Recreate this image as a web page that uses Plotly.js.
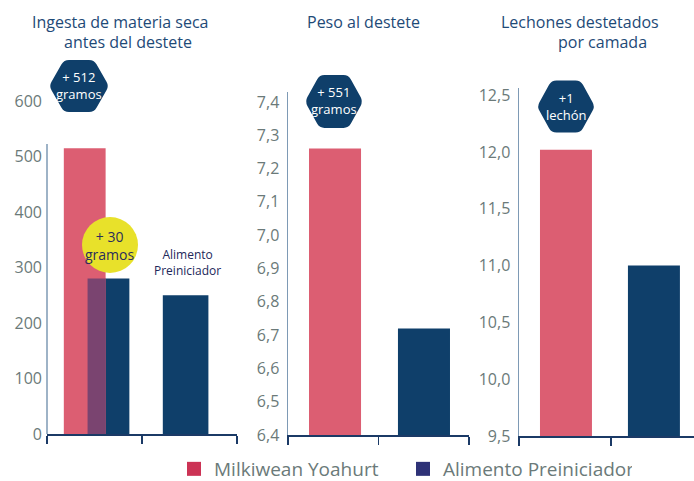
<!DOCTYPE html>
<html><head><meta charset="utf-8">
<script src="https://cdn.plot.ly/plotly-3.0.1.min.js"></script>
<style>html,body{margin:0;padding:0;background:#fff}#chart{width:694px;height:481px}</style>
</head><body><div id="chart"></div>
<script>
// ---- data ----
const seriesNames = ['Milkiwean Yoahurt', 'Alimento Preiniciador'];
const panelTitles = [['Ingesta de materia seca', 'antes del destete'], ['Peso al destete'], ['Lechones destetados', 'por camada']];
const ingestaMilkiwean = [515];          // g, grupo Milkiwean
const ingestaPreiniciador = [280, 250];  // g, preiniciador en grupo Milkiwean / grupo control
const pesoDestete = [7.26, 6.72];        // kg
const lechones = [12.02, 11.0];          // lechones/camada
const ticks1 = [0, 100, 200, 300, 400, 500, 600];
const ticks2 = [6.4, 6.5, 6.6, 6.7, 6.8, 6.9, 7.0, 7.1, 7.2, 7.3, 7.4];
const ticks3 = [9.5, 10.0, 10.5, 11.0, 11.5, 12.0, 12.5];
const badges = ['+ 512<br>gramos', '+ 551<br>gramos', '+1<br>lechón'];
const circleText = '+ 30<br>gramos';
const barLabel = 'Alimento<br>Preiniciador';

// ---- style ----
const W = 694, H = 481;
const PINK = '#DC5E72', NAVY = '#0F3F6A', PURPLE = '#7A4470';
const LEG_PINK = '#CC3355', LEG_NAVY = '#2E3277';
const TITLE_C = '#1E4A77', TICK_C = '#6B7A79';
const FONT = '"Open Sans", Lato, sans-serif';
const px = x => x / W, py = y => 1 - y / H;

const overlap = Math.min(ingestaMilkiwean[0], ingestaPreiniciador[0]);

const traces = [
  {type: 'bar', x: [0], y: [ingestaPreiniciador[0]], xaxis: 'x', yaxis: 'y', marker: {color: NAVY},
   offset: -0.073, width: 0.44, showlegend: false, hoverinfo: 'y'},
  {type: 'bar', x: [1], y: [ingestaPreiniciador[1]], xaxis: 'x', yaxis: 'y', marker: {color: NAVY},
   offset: -0.281, width: 0.48, showlegend: false, hoverinfo: 'y'},
  {type: 'bar', x: [0], y: ingestaMilkiwean, xaxis: 'x', yaxis: 'y', marker: {color: PINK},
   offset: -0.323, width: 0.44, showlegend: false, hoverinfo: 'y'},
  {type: 'bar', x: [0], y: [overlap], xaxis: 'x', yaxis: 'y', marker: {color: PURPLE},
   offset: -0.073, width: 0.19, showlegend: false, hoverinfo: 'y'},
  {type: 'bar', x: [0, 1], y: pesoDestete, xaxis: 'x2', yaxis: 'y2', marker: {color: [PINK, NAVY]},
   offset: [-0.268, -0.285], width: 0.575, showlegend: false, hoverinfo: 'y'},
  {type: 'bar', x: [0, 1], y: lechones, xaxis: 'x3', yaxis: 'y3', marker: {color: [PINK, NAVY]},
   offset: [-0.272, -0.316], width: 0.565, showlegend: false, hoverinfo: 'y'},
  {type: 'scatter', mode: 'markers', x: [null], y: [null], xaxis: 'x', yaxis: 'y', name: seriesNames[0],
   marker: {symbol: 'square', size: 14, color: LEG_PINK}},
  {type: 'scatter', mode: 'markers', x: [null], y: [null], xaxis: 'x', yaxis: 'y', name: seriesNames[1],
   marker: {symbol: 'square', size: 14, color: LEG_NAVY}}
];

function xax(d0, d1, r, tv) {
  return {domain: [px(d0), px(d1)], range: r, fixedrange: true, showgrid: false, zeroline: false,
    showline: true, linecolor: '#1B3A66', linewidth: 1.5, ticks: 'outside', ticklen: 8, tickwidth: 1.5,
    tickcolor: '#1B3A66', tickmode: 'array', tickvals: tv, showticklabels: false};
}
function yax(top, bottom, r, tv, line, anchor) {
  return {domain: [py(bottom), py(top)], range: r, fixedrange: true, showgrid: false, zeroline: false,
    showline: line, linecolor: '#7E9AB5', linewidth: 1.5, ticks: '', tickmode: 'array', tickvals: tv,
    tickformat: r[1] > 100 ? 'd' : '.1f', ticklabelstandoff: 4,
    tickfont: {family: FONT, size: 16, color: TICK_C}, anchor: anchor};
}

const layout = {
  width: W, height: H, margin: {l: 0, r: 0, t: 0, b: 0, autoexpand: false}, paper_bgcolor: '#fff', plot_bgcolor: 'rgba(0,0,0,0)',
  separators: ',.', barmode: 'overlay', font: {family: FONT},
  xaxis: xax(47, 237, [-0.5, 1.5], [-0.5, 0.5, 1.5]),
  yaxis: yax(101, 434, [0, 600], ticks1, false, 'x'),
  xaxis2: xax(288, 469, [-0.5, 1.5], [-0.5, 0.5, 1.5]),
  yaxis2: yax(92, 435, [6.4, 7.43], ticks2, true, 'x2'),
  xaxis3: xax(519, 694, [-0.5, 1.402], [-0.5, 0.5]),
  yaxis3: yax(88, 436, [9.5, 12.563], ticks3, true, 'x3'),
  showlegend: true,
  legend: {orientation: 'h', x: px(174), y: py(469), xanchor: 'left', yanchor: 'middle',
    entrywidth: 184, entrywidthmode: 'pixels',
    font: {family: FONT, size: 19, color: TICK_C}, bgcolor: 'rgba(0,0,0,0)'},
  shapes: [], annotations: []
};
layout.xaxis.anchor = 'y'; layout.xaxis2.anchor = 'y2'; layout.xaxis3.anchor = 'y3';

// panel-1 y axis line (starts below the top tick, as in the original)
layout.shapes.push({type: 'line', xref: 'paper', yref: 'paper', x0: px(47), x1: px(47), y0: py(144), y1: py(434),
  line: {color: '#7E9AB5', width: 1.5}, layer: 'below'});

// rounded hexagon badges
function hexPath(w, h, r) {
  const a = w / 2, b = h / 2, q = w / 4;
  const pts = [[-a, 0], [-q, -b], [q, -b], [a, 0], [q, b], [-q, b]];
  let d = '';
  for (let i = 0; i < pts.length; i++) {
    const p = pts[i], prev = pts[(i + pts.length - 1) % pts.length], next = pts[(i + 1) % pts.length];
    const l1 = Math.hypot(prev[0] - p[0], prev[1] - p[1]), l2 = Math.hypot(next[0] - p[0], next[1] - p[1]);
    const s = [p[0] + (prev[0] - p[0]) * r / l1, p[1] + (prev[1] - p[1]) * r / l1];
    const e = [p[0] + (next[0] - p[0]) * r / l2, p[1] + (next[1] - p[1]) * r / l2];
    d += (i === 0 ? 'M' : 'L') + s[0].toFixed(2) + ',' + s[1].toFixed(2) + ' Q' + p[0] + ',' + p[1] + ' ' + e[0].toFixed(2) + ',' + e[1].toFixed(2) + ' ';
  }
  return d + 'Z';
}
const badgePos = [[79, 86, 60, 52], [334, 101.5, 58, 53], [566, 106.5, 58, 52]];
badgePos.forEach((b, i) => {
  layout.shapes.push({type: 'path', xref: 'paper', yref: 'paper', xsizemode: 'pixel', ysizemode: 'pixel',
    xanchor: px(b[0]), yanchor: py(b[1]), path: hexPath(b[2], b[3], 5),
    fillcolor: NAVY, line: {width: 0}, layer: 'above'});
  layout.annotations.push({xref: 'paper', yref: 'paper', x: px(b[0]), y: py(b[1] - 0.5), text: badges[i],
    showarrow: false, xanchor: 'center', yanchor: 'middle', font: {family: FONT, size: 13, color: '#fff'}});
});

// yellow circle
layout.shapes.push({type: 'circle', xref: 'paper', yref: 'paper', xsizemode: 'pixel', ysizemode: 'pixel',
  xanchor: px(110), yanchor: py(245), x0: -28, x1: 28, y0: -28, y1: 28,
  fillcolor: '#E8E12A', line: {width: 0}, layer: 'above'});
layout.annotations.push({xref: 'paper', yref: 'paper', x: px(109), y: py(245), text: circleText, showarrow: false,
  xanchor: 'center', yanchor: 'middle', font: {family: FONT, size: 14, color: '#2A2D5C'}});
layout.annotations.push({xref: 'paper', yref: 'paper', x: px(187), y: py(262), text: barLabel, showarrow: false,
  xanchor: 'center', yanchor: 'middle', font: {family: FONT, size: 12, color: '#22285A'}});

// panel titles
const titlePos = [[[120, 22], [128, 42]], [[363, 22]], [[580, 22], [602, 42]]];
panelTitles.forEach((lines, i) => lines.forEach((t, j) => {
  layout.annotations.push({xref: 'paper', yref: 'paper', x: px(titlePos[i][j][0]), y: py(titlePos[i][j][1]), text: t,
    showarrow: false, xanchor: 'center', yanchor: 'middle', font: {family: FONT, size: 16, color: TITLE_C}});
}));

Plotly.newPlot('chart', traces, layout, {displayModeBar: false, staticPlot: true});
</script></body></html>
